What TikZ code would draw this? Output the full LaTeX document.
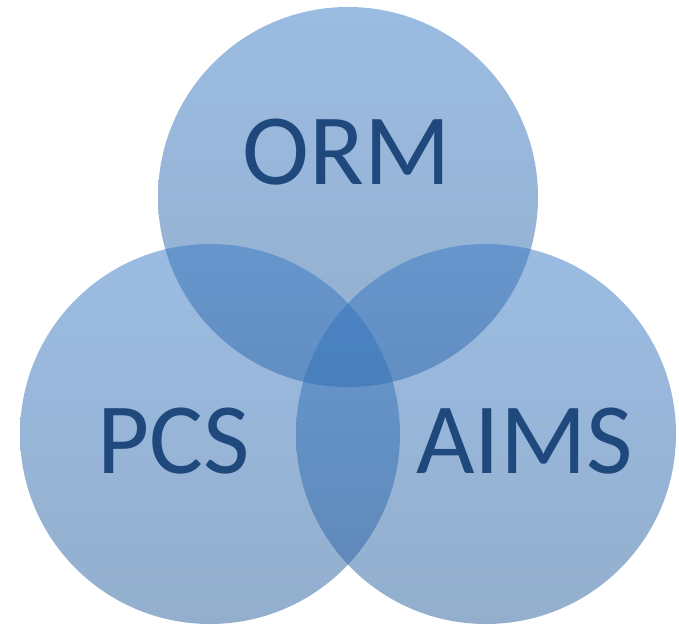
\documentclass[tikz,border=0pt]{standalone}
\usepackage{fontspec}
\setmainfont{Carlito}
\definecolor{circtop}{RGB}{55,121,197}
\definecolor{circbot}{RGB}{41,95,157}
\definecolor{labelblue}{RGB}{31,73,125}
\begin{document}
\begin{tikzpicture}[x=1pt,y=1pt]
\tikzset{venn style/.style = {circle, minimum size=380pt, inner sep=0pt,
    top color=circtop, bottom color=circbot, fill opacity=0.5},
  name style/.style = {anchor=base, inner sep=0pt, text=labelblue,
    font=\fontsize{101}{101}\selectfont}}
\useasboundingbox (0,0) rectangle (679,624); % page size
% the three sets
\node[venn style] (ormset) at (348,427) {};
\node[venn style] (pcsset) at (210,190) {};
\node[venn style] (aimsset) at (486,190) {};
% labels
\node[name style] (orm) at (346.5,439) {ORM};
\node[name style] (pcs) at (173.5,151) {PCS};
\node[name style] (aims) at (524.5,151) {AIMS};
\end{tikzpicture}
\end{document}
